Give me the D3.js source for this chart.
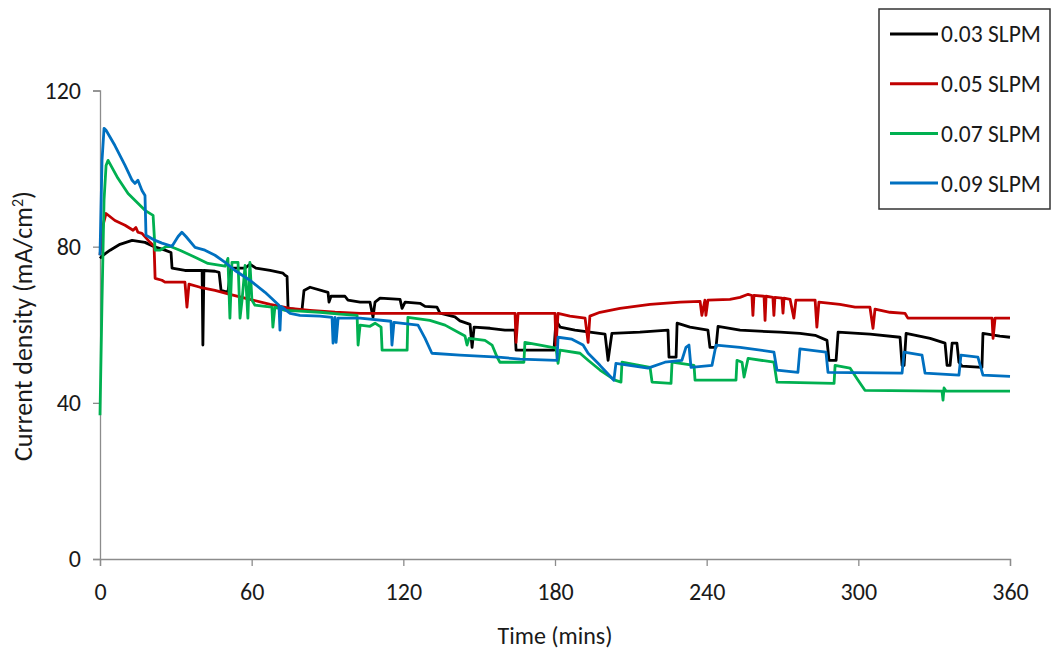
<html>
<head>
    <meta charset="utf-8">
    <script src="https://d3js.org/d3.v7.min.js"></script>
    <title>Current density</title>
    <style>
        body { margin: 0; background: #fff; }
        text { font-family: Carlito, "Liberation Sans Narrow", "DejaVu Sans Condensed", sans-serif; fill: #1a1a1a; }
        .axis .domain, .axis line { stroke: #8c8c8c; stroke-width: 1.3; }
    </style>
</head>
<body>
<svg id="chart"></svg>
<script>
    // ---- data (time in mins, current density in mA/cm2) ----
    const seriesNames = ["0.03 SLPM", "0.05 SLPM", "0.07 SLPM", "0.09 SLPM"];
    const xTicks = [0, 60, 120, 180, 240, 300, 360];
    const yTicks = [0, 40, 80, 120];

    const black003 = [[0,77.0],[1.2,77.8],[4.0,79.1],[7.9,80.6],[12.7,81.6],[17.8,81.1],[21.0,80.1],[25.7,79.1],[28.1,78.5],[28.5,74.5],[33.6,73.9],[40.4,73.9],[40.7,54.8],[41.1,73.9],[45.5,73.7],[47.1,73.4],[47.9,68.8],[50.6,68.3],[51.8,74.5],[57.4,74.5],[59.3,75.5],[61.7,74.5],[67.3,73.9],[72.4,73.2],[73.2,72.7],[74.0,72.4],[74.4,64.2],[79.9,63.7],[80.7,68.8],[83.1,69.6],[90.2,68.3],[90.6,65.8],[91.4,67.3],[96.9,67.3],[98.1,66.3],[102.9,65.8],[106.8,65.8],[108.0,61.9],[108.8,65.8],[110.8,66.8],[118.7,66.5],[119.5,64.2],[120.7,65.8],[126.6,65.5],[128.6,64.7],[133.3,64.5],[134.5,63.0],[140.4,62.0],[142.4,61.0],[146.4,60.1],[147.2,54.2],[148.0,59.4],[154.3,59.1],[160.2,58.6],[164.2,58.6],[164.6,53.5],[170.1,53.5],[179.6,53.5],[180.4,61.1],[182.0,59.4],[187.9,58.6],[193.8,58.1],[199.8,57.6],[201.0,50.9],[202.5,57.8],[213.6,58.1],[224.7,58.6],[225.1,51.7],[227.9,51.7],[228.3,60.4],[233.4,59.4],[240.5,58.6],[241.3,54.2],[243.7,54.2],[244.5,59.6],[253.2,58.6],[269.0,58.1],[276.9,57.8],[282.9,57.3],[287.6,56.0],[288.4,50.9],[291.2,50.9],[292.0,58.1],[304.6,57.6],[316.5,56.8],[317.3,49.6],[318.1,49.6],[318.9,57.8],[328.4,56.5],[334.3,55.3],[335.1,49.6],[336.3,49.6],[337.1,55.3],[339.0,55.3],[339.8,50.4],[341.0,49.4],[348.9,49.1],[349.3,57.8],[356.0,57.1],[360,56.8]];

    const red005 = [[0,77.8],[1.2,85.5],[2.4,88.5],[5.9,86.7],[9.9,85.5],[13.1,84.2],[14.2,84.9],[15.0,83.7],[16.6,83.4],[19.8,81.1],[21.4,80.1],[21.8,71.9],[24.5,71.4],[25.7,70.9],[33.6,70.9],[34.4,64.5],[35.2,70.4],[39.6,69.6],[45.5,68.8],[51.4,67.8],[59.3,66.5],[67.3,65.2],[75.2,64.2],[83.1,63.7],[93.0,63.2],[102.9,62.9],[118.7,62.9],[138.5,62.9],[158.2,62.9],[164.2,62.9],[164.6,55.5],[165.4,62.9],[180.0,62.9],[180.4,54.8],[181.2,62.9],[185.9,62.2],[191.9,61.7],[193.1,55.5],[193.8,62.2],[197.8,63.2],[205.7,64.2],[217.6,65.2],[229.5,65.8],[237.4,66.0],[238.1,62.4],[239.3,66.3],[239.7,62.4],[240.5,66.3],[249.2,66.5],[253.2,67.0],[256.4,67.8],[257.9,67.5],[258.3,62.4],[258.7,67.5],[262.7,67.3],[263.1,61.1],[263.5,67.3],[266.2,67.0],[266.6,62.4],[267.0,67.0],[269.8,66.8],[270.2,63.0],[270.6,66.8],[273.0,66.5],[274.5,61.7],[275.3,66.3],[282.9,66.3],[283.6,59.4],[284.4,65.8],[292.7,65.2],[298.7,64.5],[304.6,64.5],[305.8,59.1],[306.6,64.0],[312.5,63.2],[318.5,62.9],[319.6,61.7],[336.3,61.7],[352.9,61.7],[353.3,56.5],[354.1,61.7],[360,61.7]];

    const green007 = [[0,36.8],[0.8,66.3],[1.6,91.9],[2.4,100.8],[3.2,102.1],[7.1,97.5],[11.1,93.6],[15.0,91.1],[17.8,89.3],[21.0,88.0],[21.8,79.1],[23.7,79.1],[26.9,80.3],[31.6,79.1],[37.6,77.3],[42.7,75.7],[49.5,75.0],[50.6,77.0],[51.4,61.7],[52.2,76.0],[54.6,76.0],[55.4,61.7],[56.2,66.3],[57.4,75.2],[58.5,61.7],[59.3,76.0],[60.1,66.3],[61.3,65.0],[65.3,64.7],[68.0,64.5],[68.4,59.4],[69.2,64.5],[73.2,63.7],[79.1,63.5],[87.0,63.2],[94.9,62.7],[101.7,62.4],[102.1,54.8],[102.9,59.9],[106.8,59.6],[108.8,60.4],[111.2,59.4],[111.6,53.5],[121.5,53.5],[121.8,61.9],[130.5,61.1],[136.5,59.9],[142.4,57.8],[144.4,57.1],[145.2,54.8],[146.0,56.5],[152.3,56.0],[155.1,54.8],[157.1,51.7],[158.2,50.4],[167.7,50.4],[168.1,55.5],[174.1,54.8],[180.4,54.0],[181.2,50.1],[182.0,53.5],[189.9,52.7],[193.1,50.9],[197.8,48.4],[203.7,45.8],[206.1,45.3],[206.5,50.4],[217.6,49.1],[218.4,45.3],[225.9,45.0],[226.3,50.4],[235.0,49.6],[235.4,45.8],[251.6,45.8],[252.0,50.9],[254.0,50.4],[254.8,46.6],[256.4,51.4],[266.6,50.4],[267.8,45.3],[290.4,45.0],[290.8,49.6],[296.7,48.9],[299.9,45.8],[302.6,43.2],[333.1,43.0],[333.5,40.7],[333.9,43.8],[334.7,43.0],[360,43.0]];

    const blue009 = [[0,77.8],[0.8,102.1],[1.6,110.3],[2.4,109.8],[5.9,105.9],[9.9,100.8],[12.7,97.0],[13.8,96.2],[15.0,97.0],[16.6,94.4],[17.8,93.1],[18.2,82.9],[21.8,81.6],[24.5,80.9],[28.5,80.1],[30.9,82.6],[32.4,83.7],[34.0,82.6],[37.6,79.8],[41.5,79.1],[45.5,77.8],[49.5,76.0],[53.4,73.9],[59.3,71.4],[65.3,68.3],[70.8,65.0],[71.2,58.6],[71.6,64.7],[75.2,62.9],[79.1,62.4],[87.0,62.2],[91.8,61.9],[92.2,55.3],[93.0,61.9],[93.4,55.5],[94.2,61.7],[102.9,61.7],[115.1,60.9],[115.5,54.8],[116.3,60.6],[125.8,59.9],[128.6,56.5],[131.3,52.7],[142.4,52.2],[157.5,51.7],[166.2,51.2],[180.8,50.9],[181.2,56.8],[186.7,56.3],[191.1,54.8],[193.1,52.7],[197.8,49.6],[203.3,45.8],[204.1,50.1],[216.8,48.9],[223.5,50.4],[230.2,50.9],[231.8,54.2],[233.0,54.8],[233.8,49.1],[242.1,49.6],[243.7,54.8],[253.2,54.2],[266.6,53.0],[267.8,48.4],[276.1,47.8],[276.9,53.8],[287.2,53.0],[288.0,47.8],[317.3,47.6],[318.1,53.0],[325.2,52.2],[326.4,47.6],[339.8,47.1],[340.6,52.2],[347.3,51.7],[349.3,47.1],[360,46.8]];

    const allSeries = [black003, red005, green007, blue009];
    const lineColors = ["#000000", "#c00000", "#00b050", "#0070c0"];

    // ---- layout ----
    const width = 1055, height = 653;
    const margins = {top: 90.5, right: 45, bottom: 94, left: 100};
    const chartWidth = width - margins.left - margins.right;
    const chartHeight = height - margins.top - margins.bottom;

    let svg = d3.select("svg#chart")
                .attr("width", width)
                .attr("height", height);

    const scaleX = d3.scaleLinear().domain([0, 360]).range([0, chartWidth]);
    const scaleY = d3.scaleLinear().domain([0, 120]).range([chartHeight, 0]);

    let chartArea = svg.append("g")
                       .attr("transform", `translate(${margins.left}, ${margins.top})`);

    // axes
    let leftAxis = d3.axisLeft(scaleY).tickValues(yTicks).tickSizeOuter(0).tickSize(7).tickPadding(12);
    let botAxis = d3.axisBottom(scaleX).tickValues(xTicks).tickSizeOuter(0).tickSize(7).tickPadding(17);

    chartArea.append("g")
             .attr("class", "axis")
             .call(leftAxis)
             .selectAll("text")
             .style("font-size", "24px");

    chartArea.append("g")
             .attr("class", "axis")
             .attr("transform", `translate(0, ${chartHeight})`)
             .call(botAxis)
             .selectAll("text")
             .style("font-size", "24px");

    // axis titles
    svg.append("text")
       .attr("x", margins.left + chartWidth / 2)
       .attr("y", 644)
       .attr("text-anchor", "middle")
       .style("font-size", "24px")
       .text("Time (mins)");

    let yTitle = svg.append("text")
                    .attr("transform", `translate(32, 326) rotate(-90)`)
                    .attr("text-anchor", "middle")
                    .style("font-size", "26px");
    yTitle.append("tspan").text("Current density (mA/cm");
    yTitle.append("tspan").attr("baseline-shift", "super").style("font-size", "16px").text("2");
    yTitle.append("tspan").text(")");

    // lines
    const lineGen = d3.line()
                      .x(d => scaleX(d[0]))
                      .y(d => scaleY(d[1]));

    chartArea.selectAll("path.line")
             .data(allSeries)
             .join("path")
             .attr("class", "line")
             .attr("fill", "none")
             .attr("stroke", (d, i) => lineColors[i])
             .attr("stroke-width", 2.8)
             .attr("stroke-linejoin", "round")
             .attr("d", d => lineGen(d));

    // legend
    let legend = svg.append("g").attr("transform", "translate(879, 9)");
    legend.append("rect")
          .attr("width", 171)
          .attr("height", 200)
          .attr("fill", "#fff")
          .attr("stroke", "#333")
          .attr("stroke-width", 1.5);

    let items = legend.selectAll("g.item")
                      .data(seriesNames)
                      .join("g")
                      .attr("class", "item")
                      .attr("transform", (d, i) => `translate(0, ${25 + i * 49.7})`);
    items.append("line")
         .attr("x1", 11).attr("x2", 59)
         .attr("stroke", (d, i) => lineColors[i])
         .attr("stroke-width", 3);
    items.append("text")
         .attr("x", 62)
         .attr("dy", "0.36em")
         .style("font-size", "23.5px")
         .text(d => d);
</script>
</body>
</html>
